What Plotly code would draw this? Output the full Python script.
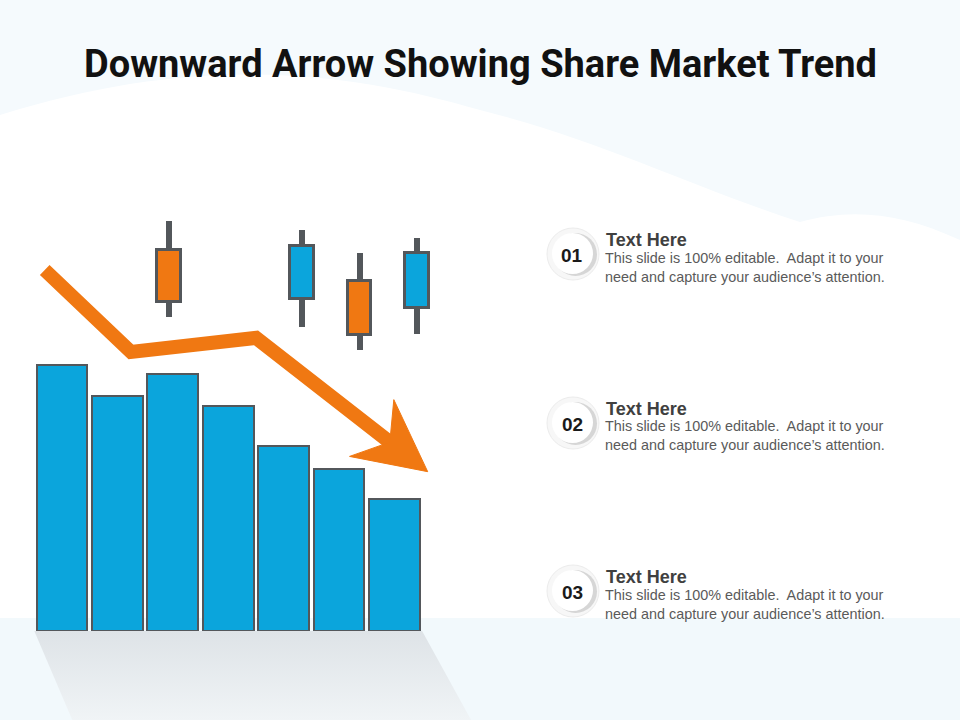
import plotly.graph_objects as go

# ---------------- data ----------------
periods = [1, 2, 3, 4, 5, 6, 7]
volume = [100, 88.5, 96.5, 84.5, 69.5, 61, 49.5]

candle_x = [2.94, 5.34, 6.37, 7.41]
candle_open = [143.2, 124.8, 131.5, 121.4]
candle_close = [123.6, 144.8, 111.3, 142.0]
candle_high = [154.1, 150.8, 142.2, 147.9]
candle_low = [117.9, 114.4, 105.6, 111.5]

trend_x = [0.688, 2.245, 4.502, 7.601]
trend_y = [135.7, 104.9, 110.2, 59.9]

title_text = "Downward Arrow Showing Share Market Trend"
item_numbers = ["01", "02", "03"]
item_titles = ["Text Here", "Text Here", "Text Here"]
item_bodies = ["This slide is 100% editable.  Adapt it to your<br>need and capture your audience\u2019s attention."] * 3

# ---------------- style ----------------
W, H = 960, 720
BLUE = "#0BA5DC"
ORANGE = "#F07812"
GREY = "#53575B"
TINT_TOP = "#F5FAFD"
TINT_BOTTOM = "#F2F9FC"

# axis geometry (unit sizes in px)
X0_PX, X_PX_PER_UNIT = 62.0, 55.4
Y0_PX, Y_PX_PER_UNIT = 631.0, 2.66
x_range = [1 - X0_PX / X_PX_PER_UNIT, 1 + (W - X0_PX) / X_PX_PER_UNIT]
y_range = [(Y0_PX - H) / Y_PX_PER_UNIT, Y0_PX / Y_PX_PER_UNIT]


def to_px(x, y):
    return X0_PX + (x - 1) * X_PX_PER_UNIT, Y0_PX - y * Y_PX_PER_UNIT


def from_px(px_, py_):
    return 1 + (px_ - X0_PX) / X_PX_PER_UNIT, (Y0_PX - py_) / Y_PX_PER_UNIT


def px(v):
    return v / W


def py(v):
    return 1 - v / H


fig = go.Figure()

# shadow under bars (decoration)
bl, _ = to_px(periods[0] - 0.5, 0)
br, _ = to_px(periods[-1] + 0.5, 0)
sx = [bl, br, br + 49, bl + 38, bl]
sy = [Y0_PX, Y0_PX, H, H, Y0_PX]
sxd, syd = zip(*[from_px(a, b) for a, b in zip(sx, sy)])
fig.add_trace(go.Scatter(
    x=list(sxd), y=list(syd), mode="lines", fill="toself", line=dict(width=0),
    fillgradient=dict(type="vertical", colorscale=[[0, "#F0F4F6"], [1, "#DEE3E7"]]),
    hoverinfo="skip", showlegend=False))

# bars
fig.add_trace(go.Bar(
    x=periods, y=volume, width=0.915,
    marker=dict(color=BLUE, line=dict(color=GREY, width=2)),
    hoverinfo="skip", showlegend=False))

# candle wicks (thin bars so they stay beneath the bodies)
fig.add_trace(go.Bar(
    x=candle_x, y=[h - l for h, l in zip(candle_high, candle_low)], base=candle_low,
    width=6 / X_PX_PER_UNIT, marker=dict(color=GREY, line=dict(width=0)),
    hoverinfo="skip", showlegend=False))

# candle bodies
base = [min(o, c) for o, c in zip(candle_open, candle_close)]
hgt = [abs(c - o) for o, c in zip(candle_open, candle_close)]
cols = [BLUE if c > o else ORANGE for o, c in zip(candle_open, candle_close)]
fig.add_trace(go.Bar(
    x=candle_x, y=hgt, base=base, width=0.433,
    marker=dict(color=cols, line=dict(color=GREY, width=3)),
    hoverinfo="skip", showlegend=False))

# trend arrow: shaft + head computed from last segment
p_prev = to_px(trend_x[-2], trend_y[-2])
p_tip = to_px(trend_x[-1], trend_y[-1])
dx, dy = p_tip[0] - p_prev[0], p_tip[1] - p_prev[1]
L = (dx ** 2 + dy ** 2) ** 0.5
ux, uy = dx / L, dy / L
nx, ny = -uy, ux
HEAD_LEN, HEAD_HALF, NOTCH = 71, 36, 48


def head_pt(a, b):
    return p_tip[0] + a * ux + b * nx, p_tip[1] + a * uy + b * ny


shaft_end = from_px(*head_pt(-NOTCH + 4, 0))
fig.add_trace(go.Scatter(
    x=trend_x[:-1] + [shaft_end[0]], y=trend_y[:-1] + [shaft_end[1]],
    mode="lines", line=dict(color=ORANGE, width=14),
    hoverinfo="skip", showlegend=False))
head = [head_pt(0, 0), head_pt(-HEAD_LEN, -HEAD_HALF), head_pt(-NOTCH, 0),
        head_pt(-HEAD_LEN, HEAD_HALF), head_pt(0, 0)]
hx, hy = zip(*[from_px(a, b) for a, b in head])
fig.add_trace(go.Scatter(x=list(hx), y=list(hy), mode="lines", fill="toself",
                         fillcolor=ORANGE, line=dict(color=ORANGE, width=1),
                         hoverinfo="skip", showlegend=False))

# ---------------- background shapes ----------------
shapes = []
tint_path = ("M 0 0 L 960 0 L 960 240 C 900 212 850 208 800 222 "
             "C 700 190 600 140 480 110 C 350 72 200 52 0 115 Z")


def path_to_paper(p):
    toks = p.split()
    out, coords = [], []
    for t in toks:
        try:
            coords.append(float(t))
        except ValueError:
            out.append(t)
            continue
        if len(coords) == 2:
            out.append(f"{px(coords[0]):.5f},{py(coords[1]):.5f}")
            coords = []
    return " ".join(out)


shapes.append(dict(type="path", xref="paper", yref="paper", path=path_to_paper(tint_path),
                   fillcolor=TINT_TOP, line=dict(width=0), layer="below"))
shapes.append(dict(type="rect", xref="paper", yref="paper", x0=0, x1=1, y0=py(720), y1=py(618),
                   fillcolor=TINT_BOTTOM, line=dict(width=0), layer="below"))

annotations = []
row_y = [254, 423, 591]
for i, cy in enumerate(row_y):
    cx = 573
    # faint halo ring
    shapes.append(dict(type="circle", xref="paper", yref="paper",
                       x0=px(cx - 26), x1=px(cx + 26), y0=py(cy + 26), y1=py(cy - 26),
                       fillcolor="#F7F7F7", line=dict(color="#ECECEC", width=1), layer="above"))
    # shadow crescent
    shapes.append(dict(type="circle", xref="paper", yref="paper",
                       x0=px(cx - 19), x1=px(cx + 24), y0=py(cy + 22), y1=py(cy - 21),
                       fillcolor="#D6D6D6", line=dict(width=0), layer="above"))
    # white disc
    shapes.append(dict(type="circle", xref="paper", yref="paper",
                       x0=px(cx - 21), x1=px(cx + 20), y0=py(cy + 20), y1=py(cy - 21),
                       fillcolor="#FFFFFF", line=dict(width=0), layer="above"))
    annotations.append(dict(xref="paper", yref="paper", x=px(cx - 1), y=py(cy + 1),
                            text=f"<b>{item_numbers[i]}</b>", showarrow=False,
                            xanchor="center", yanchor="middle",
                            font=dict(family="Liberation Sans, Arial", size=19, color="#1A1A1A")))
    annotations.append(dict(xref="paper", yref="paper", x=px(604), y=py(cy - 14),
                            text=f"<b>{item_titles[i]}</b>", showarrow=False,
                            xanchor="left", yanchor="middle",
                            font=dict(family="Liberation Sans, Arial", size=18, color="#404040")))
    annotations.append(dict(xref="paper", yref="paper", x=px(603), y=py(cy + 13),
                            text=item_bodies[i], showarrow=False, align="left",
                            xanchor="left", yanchor="middle",
                            font=dict(family="Liberation Sans, Arial", size=14.4, color="#5A5A5A")))

annotations.append(dict(xref="paper", yref="paper", x=0.5, y=py(64), text=f"<b>{title_text}</b>",
                        showarrow=False, xanchor="center", yanchor="middle",
                        font=dict(family="Roboto", size=38, color="#111111")))

fig.update_layout(
    width=W, height=H, margin=dict(l=0, r=0, t=0, b=0),
    paper_bgcolor="#FFFFFF", plot_bgcolor="rgba(0,0,0,0)",
    xaxis=dict(range=x_range, visible=False, fixedrange=True),
    yaxis=dict(range=y_range, visible=False, fixedrange=True),
    barmode="overlay", bargap=0,
    shapes=shapes, annotations=annotations, showlegend=False,
)

fig.write_html("out.html", config={"displayModeBar": False})
